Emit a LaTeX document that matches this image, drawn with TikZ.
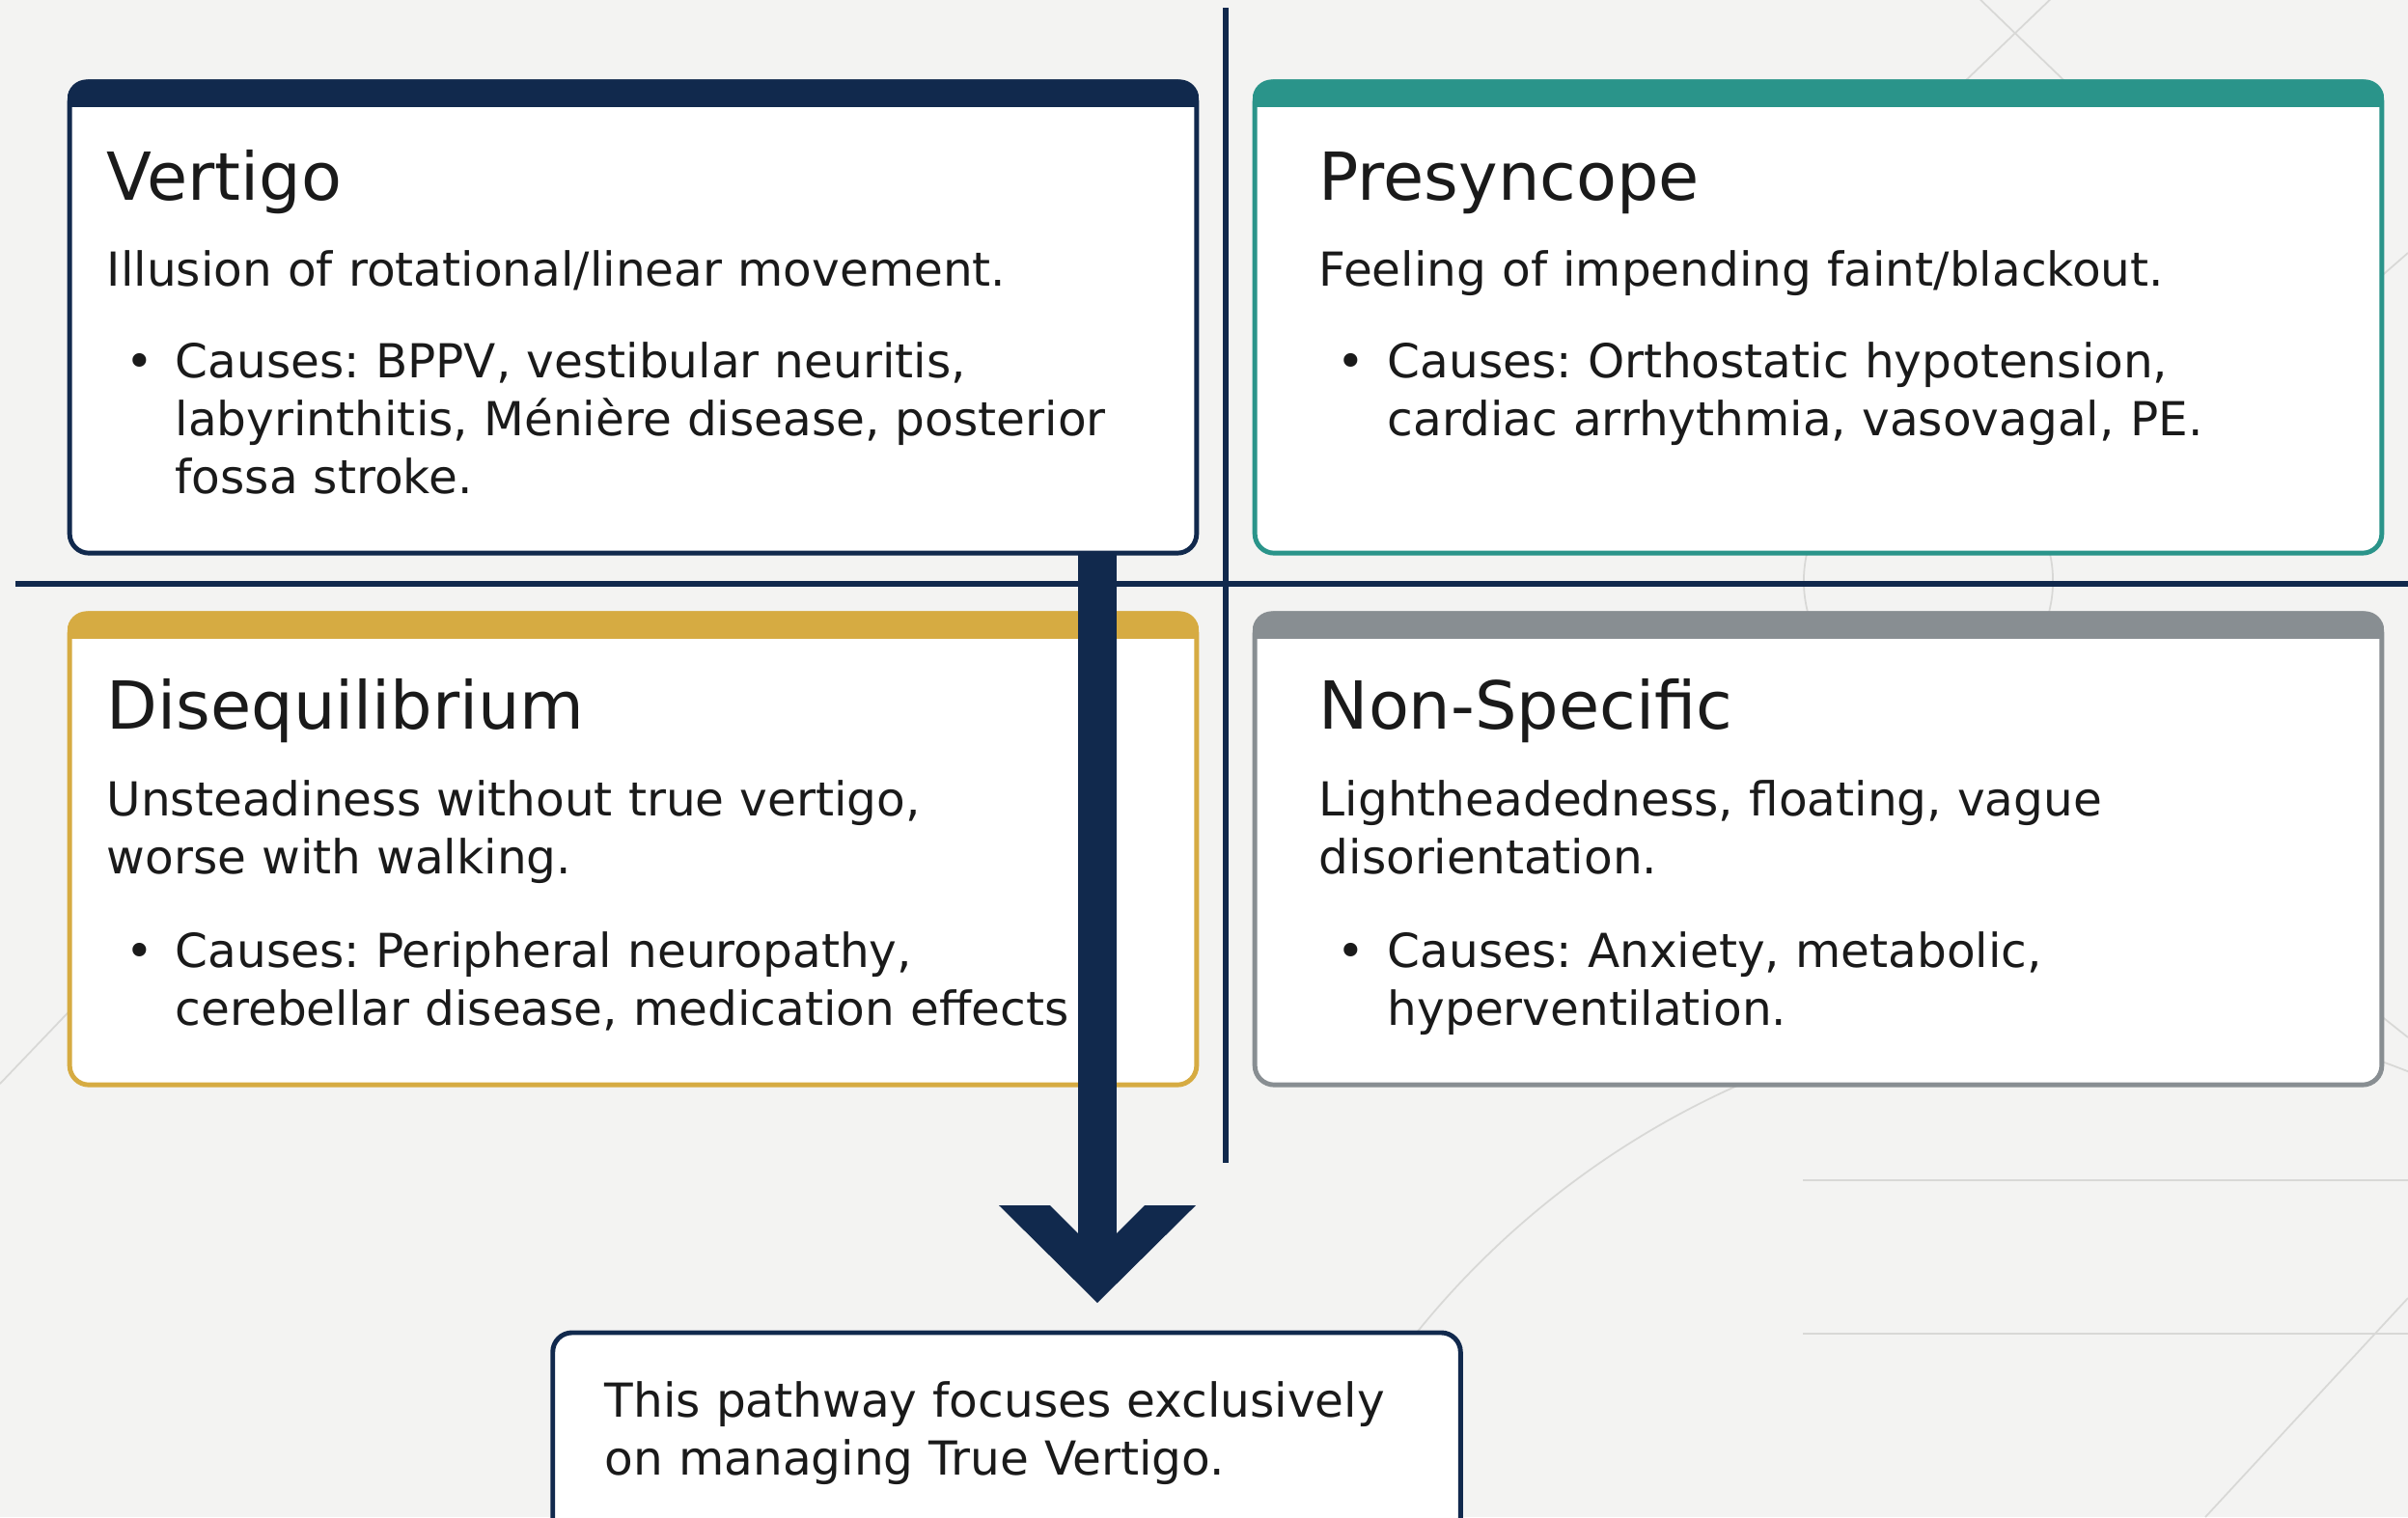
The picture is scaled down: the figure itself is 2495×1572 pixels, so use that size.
\documentclass[tikz,border=0pt]{standalone}
\usepackage{fontspec}
\setmainfont{DejaVu Sans}
\frenchspacing

\definecolor{cbg}{RGB}{243,243,242}
\definecolor{cnavy}{RGB}{17,41,77}
\definecolor{cteal}{RGB}{42,148,138}
\definecolor{cgold}{RGB}{214,171,66}
\definecolor{cgrey}{RGB}{136,142,146}
\definecolor{cink}{RGB}{26,26,26}
\definecolor{cline}{RGB}{216,216,214}

\tikzset{
  card/.style={draw=#1,line width=1.4pt,fill=white,rounded corners=0.2cm,
    minimum width=11.67cm,minimum height=4.88cm,inner sep=0},
  notebox/.style={draw=cnavy,line width=1.4pt,fill=white,rounded corners=0.2cm,
    minimum width=9.4cm,minimum height=2.3cm,inner sep=0},
  cardtitle/.style={anchor=base west,inner sep=0,text=cink,font=\fontsize{19.5}{23}\selectfont},
  cardtext/.style={anchor=base west,inner sep=0,text=cink,align=left,text width=10cm,
    font=\fontsize{13.8}{17.1}\selectfont},
  bulletdot/.style={anchor=base,inner sep=0,text=cink,font=\fontsize{13.8}{17.1}\selectfont},
  bgline/.style={cline,line width=0.5pt}
}

\begin{document}
\begin{tikzpicture}[x=0.01cm,y=-0.01cm]
  \useasboundingbox (0,0) rectangle (2495,1572);
  \clip (0,0) rectangle (2495,1572);
  \fill[cbg] (0,0) rectangle (2495,1572);

  % faint background pattern
  \draw[bgline] (2045,-7) -- (2190,133);
  \draw[bgline] (2131,-7) -- (1985,133);
  \draw[bgline] (1998,602) circle (1.29cm);
  \draw[bgline] (2165,1943) circle (8.95cm);
  \draw[bgline] (1868,1223) -- (2495,1223);
  \draw[bgline] (1868,1382) -- (2495,1382);
  \draw[bgline] (2495,1345) -- (2285,1572);
  \draw[bgline] (2300,920) -- (2495,1075);
  \draw[bgline] (2440,310) -- (2495,262);
  \draw[bgline] (150,966) -- (0,1123);

  % quadrant axes
  \draw[cnavy,line width=1.7pt] (16,605) -- (2495,605);
  \draw[cnavy,line width=1.7pt] (1270,8) -- (1270,1205);

  % cards
  \node[card=cnavy] (vert) at (656,329) {};
  \node[card=cteal] (presyn) at (1884,329) {};
  \node[card=cgold] (diseq) at (656,880) {};
  \node[card=cgrey] (nonspec) at (1884,880) {};
  \foreach \c/\col in {vert/cnavy,presyn/cteal,diseq/cgold,nonspec/cgrey}{
    \begin{scope}
      \clip[rounded corners=0.2cm] (\c.south west) rectangle (\c.north east);
      \fill[\col] (\c.north west) rectangle ([yshift=-0.29cm]\c.north east);
    \end{scope}
  }

  % Vertigo
  \node[cardtitle] (verttitle) at (110,207) {Vertigo};
  \node[cardtext] (vertdesc) at (110,296) {Illusion of rotational/linear movement.};
  \node[bulletdot] (vertdot) at (145,391) {•};
  \node[cardtext] (vertcause) at (181,391) {Causes: BPPV, vestibular neuritis,\\labyrinthitis, Ménière disease, posterior\\fossa stroke.};

  % Presyncope
  \node[cardtitle] (presyntitle) at (1366,207) {Presyncope};
  \node[cardtext] (presyndesc) at (1366,296) {Feeling of impending faint/blackout.};
  \node[bulletdot] (presyndot) at (1400,391) {•};
  \node[cardtext] (presyncause) at (1437,391) {Causes: Orthostatic hypotension,\\cardiac arrhythmia, vasovagal, PE.};

  % Disequilibrium
  \node[cardtitle] (diseqtitle) at (110,755) {Disequilibrium};
  \node[cardtext] (diseqdesc) at (110,845) {Unsteadiness without true vertigo,\\worse with walking.};
  \node[bulletdot] (diseqdot) at (145,1002) {•};
  \node[cardtext] (diseqcause) at (181,1002) {Causes: Peripheral neuropathy,\\cerebellar disease, medication effects};

  % Non-Specific
  \node[cardtitle] (nonspectitle) at (1366,755) {Non-Specific};
  \node[cardtext] (nonspecdesc) at (1366,845) {Lightheadedness, floating, vague\\disorientation.};
  \node[bulletdot] (nonspecdot) at (1400,1002) {•};
  \node[cardtext] (nonspeccause) at (1437,1002) {Causes: Anxiety, metabolic,\\hyperventilation.};

  % pathway note
  \node[notebox] (note) at (1043,1496) {};
  \node[cardtext] (notetext) at (626,1468) {This pathway focuses exclusively\\on managing True Vertigo.};

  % arrow from Vertigo down to the note
  \coordinate (arrowtop) at (1137,573);
  \coordinate (arrowtip) at (1137,1350);
  \draw[cnavy,line width=0.4cm] (arrowtop) -- ([yshift=0.5cm]arrowtip);
  \fill[cnavy] (arrowtip) -- ++(-102,-101) -- ++(53,0) -- ++(49,49) -- ++(49,-49) -- ++(53,0) -- cycle;
\end{tikzpicture}
\end{document}
